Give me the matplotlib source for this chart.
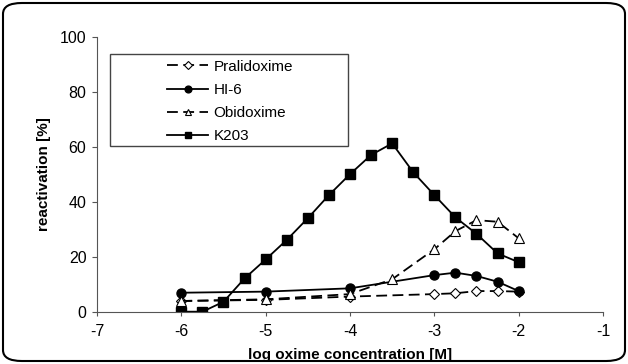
import matplotlib.pyplot as plt
from matplotlib.patches import FancyBboxPatch, Rectangle

plt.rcParams['font.family'] = ['Liberation Sans', 'DejaVu Sans']
plt.rcParams['axes.unicode_minus'] = False

# log oxime concentration [M]
x_k203 = [-6, -5.75, -5.5, -5.25, -5, -4.75, -4.5, -4.25, -4, -3.75, -3.5,
          -3.25, -3, -2.75, -2.5, -2.25, -2]
k203 = [0, 0, 3.6, 12.1, 19, 26.1, 34, 42.4, 50, 57, 61.2,
        50.7, 42.4, 34.3, 28.3, 21.2, 18]

x_hi6 = [-6, -5, -4, -3, -2.75, -2.5, -2.25, -2]
hi6 = [6.9, 7.3, 8.5, 13.3, 14.2, 13, 10.9, 7.5]

x_obi = [-6, -5, -4, -3.5, -3, -2.75, -2.5, -2.25, -2]
obidoxime = [3.9, 4.5, 6.4, 11.8, 22.7, 29.3, 33.3, 32.7, 26.7]

x_pral = [-6, -5, -4, -3, -2.75, -2.5, -2.25, -2]
pralidoxime = [3.9, 4.3, 5.5, 6.4, 6.7, 7.5, 7.5, 7.3]

fig = plt.figure(figsize=(6.28, 3.64), dpi=100)
ax = fig.add_axes([97/628, 1 - 311.7/364, 506/628, 275/364])

ax.plot(x_pral, pralidoxime, color='black', lw=1.3, dashes=(6, 3),
        marker='D', ms=5, mfc='white', mec='black', mew=0.8, label='Pralidoxime')
ax.plot(x_hi6, hi6, color='black', lw=1.3, marker='o', ms=6.5,
        mfc='black', mec='black', label='HI-6')
ax.plot(x_obi, obidoxime, color='black', lw=1.3, dashes=(6, 3),
        marker='^', ms=6.5, mfc='white', mec='black', mew=0.8, label='Obidoxime')
ax.plot(x_k203, k203, color='black', lw=1.3, marker='s', ms=6.5,
        mfc='black', mec='black', label='K203')

ax.set_xlim(-7, -1)
ax.set_ylim(0, 100)
ax.set_xticks(range(-7, 0))
ax.set_yticks(range(0, 101, 20))
ax.spines['top'].set_visible(False)
ax.spines['right'].set_visible(False)
ax.spines['left'].set_color('#555555')
ax.spines['bottom'].set_color('#555555')
ax.tick_params(direction='out', length=3.6, labelsize=11.5, pad=4,
               color='#555555')
ax.tick_params(axis='x', length=3, pad=6)
ax.set_xlabel('log oxime concentration [M]', fontsize=11, fontweight='bold', labelpad=6)
ax.set_ylabel('reactivation [%]', fontsize=11, fontweight='bold', labelpad=6)

# legend box drawn separately, wider than its content like the original
ax.add_patch(Rectangle((13/506, 1 - 109.3/275), 238/506, 92/275,
                       transform=ax.transAxes, fill=False, edgecolor='#444444',
                       lw=1, zorder=5))
leg = ax.legend(loc='upper left', bbox_to_anchor=(70/506, 1 - 23/275),
                frameon=False, fontsize=11, markerscale=0.75,
                handlelength=2.7, borderpad=0, labelspacing=0.6,
                borderaxespad=0, handletextpad=0.33)

border = FancyBboxPatch((3/628, 3/364), 622/628, 358/364,
                        boxstyle='round,pad=0,rounding_size=0.03',
                        transform=fig.transFigure, fill=False,
                        edgecolor='black', lw=1.5)
fig.patches.append(border)

fig.savefig('out.png', dpi=100)
